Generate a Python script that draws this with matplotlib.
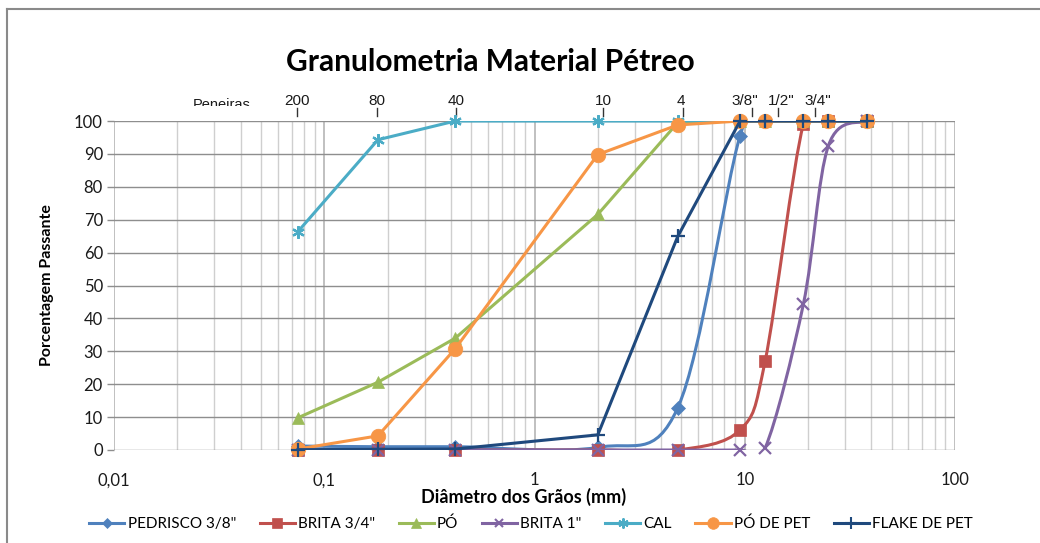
import numpy as np
import matplotlib
matplotlib.use("Agg")
import matplotlib.pyplot as plt
from matplotlib.path import Path
from matplotlib.patches import PathPatch
from matplotlib.lines import Line2D
from matplotlib.ticker import FuncFormatter, LogLocator, NullFormatter
from matplotlib.transforms import blended_transform_factory, Bbox
from matplotlib import font_manager

# ---------------- data ----------------
sieve_mm = [0.075, 0.18, 0.42, 2.0, 4.8, 9.5, 12.5, 19.0, 25.0, 38.0]

pedrisco = [1.2, 1.0, 1.0, 0.8, 12.8, 95.5, 100, 100, 100, 100]
brita_34 = [0, 0, 0, 0, 0, 6.1, 27.0, 99.0, 100, 100]
po = [9.8, 20.6, 34.0, 71.6, 99.5, 100, 100, 100, 100, 100]
brita_1 = [0, 0, 0, 0, 0, 0, 0.6, 44.3, 92.5, 100]
cal = [66.4, 94.3, 100, 100, 100, 100, 100, 100, 100, 100]
po_pet = [0.3, 4.3, 30.8, 89.8, 98.8, 100, 100, 100, 100, 100]
flake_pet = [0.1, 0.2, 0.3, 4.6, 64.9, 100, 100, 100, 100, 100]

series_names = ['PEDRISCO 3/8"', 'BRITA 3/4"', 'PÓ', 'BRITA 1"', 'CAL', 'PÓ DE PET', 'FLAKE DE PET']
series_values = [pedrisco, brita_34, po, brita_1, cal, po_pet, flake_pet]
series_smooth = [True, True, False, True, False, False, False]

# top "Peneiras" axis
sieve_labels = ['200', '80', '40', '10', '4', '3/8"', '1/2"', '3/4"']
sieve_tick_pos = [0.0743, 0.1786, 0.4237, 2.12, 5.08, 10.8, 14.4, 21.6]
sieve_label_pos = [0.0743, 0.1786, 0.4237, 2.12, 4.98, 10.0, 14.9, 22.3]

# ---------------- style ----------------
colors = ['#4F81BD', '#C0504D', '#9BBB59', '#8064A2', '#4BACC6', '#F79646', '#1F497D']
markers = ['D', 's', '^', 'x', (6, 2, 0), 'o', '+']
msizes = [7, 9, 9, 8, 9, 10.5, 10]

avail = {f.name for f in font_manager.fontManager.ttflist}
main_font = 'Lato' if 'Lato' in avail else 'DejaVu Sans'
narrow_font = 'Liberation Sans Narrow' if 'Liberation Sans Narrow' in avail else 'Liberation Sans'
plt.rcParams['font.family'] = [main_font, 'DejaVu Sans']

W, H = 1040, 543
fig = plt.figure(figsize=(W / 100, H / 100), dpi=100)
fig.patch.set_facecolor('white')

x0, x1, ytop, ybot = 114, 955, 121, 450
ax = fig.add_axes([x0 / W, 1 - ybot / H, (x1 - x0) / W, (ybot - ytop) / H])
ax.set_xscale('log')
ax.set_xlim(0.01, 100)
ax.set_ylim(0, 100)
ax.set_yticks(range(0, 101, 10))
ax.xaxis.set_major_locator(LogLocator(base=10))
ax.xaxis.set_minor_locator(LogLocator(base=10, subs=np.arange(2, 10)))
ax.xaxis.set_minor_formatter(NullFormatter())
ax.xaxis.set_major_formatter(FuncFormatter(lambda v, p: f"{v:g}".replace('.', ',')))

ax.grid(which='major', axis='y', color='#8e8e8e', lw=1.0, zorder=0)
ax.grid(which='major', axis='x', color='#b5b5b5', lw=1.2, zorder=0)
ax.grid(which='minor', axis='x', color='#cfcfcf', lw=1.0, zorder=0)
ax.set_axisbelow(True)
for s in ax.spines.values():
    s.set_visible(False)
ax.tick_params(axis='x', which='both', length=0, pad=16, labelsize=12, labelcolor='#1a1a1a')
ax.tick_params(axis='y', length=5, width=1, color='#8e8e8e', pad=3, labelsize=12, labelcolor='#1a1a1a')


def smooth_path(xs, ys):
    u = np.log10(np.asarray(xs, float))
    y = np.asarray(ys, float)
    n = len(u)
    verts = [(xs[0], y[0])]
    codes = [Path.MOVETO]
    for i in range(n - 1):
        ip = max(i - 1, 0)
        inx = min(i + 2, n - 1)
        c1u = u[i] + (u[i + 1] - u[ip]) / 6
        c1y = y[i] + (y[i + 1] - y[ip]) / 6
        c2u = u[i + 1] - (u[inx] - u[i]) / 6
        c2y = y[i + 1] - (y[inx] - y[i]) / 6
        verts += [(10 ** c1u, c1y), (10 ** c2u, c2y), (xs[i + 1], y[i + 1])]
        codes += [Path.CURVE4] * 3
    return Path(verts, codes)


handles = []
for k, (name, vals, sm) in enumerate(zip(series_names, series_values, series_smooth)):
    c = colors[k]
    z = 3 + k
    if sm:
        patch = PathPatch(smooth_path(sieve_mm, vals), facecolor='none', edgecolor=c,
                          lw=2.2, zorder=z, capstyle='round', joinstyle='round')
        ax.add_patch(patch)
    else:
        ax.plot(sieve_mm, vals, color=c, lw=2.2, zorder=z, solid_joinstyle='round')
    mk = markers[k]
    lined = mk in ('x', '+', (6, 2, 0))
    ax.plot(sieve_mm, vals, ls='none', marker=mk, ms=msizes[k], color=c,
            mec=c, mew=1.6 if lined else 0.5, zorder=z + 0.5, clip_on=False)
    handles.append(Line2D([], [], color=c, lw=2.2, marker=mk,
                          ms=msizes[k] * 0.8, mec=c, mew=1.5 if lined else 0.5))

# top sieve axis
blend = blended_transform_factory(ax.transData, fig.transFigure)
for xp in sieve_tick_pos:
    ax.plot([xp, xp], [1 - 108 / H, 1 - 116 / H], color='#333333', lw=1,
            transform=blend, clip_on=False)
for lab, xp in zip(sieve_labels, sieve_label_pos):
    fig.text(xp, 1 - 101 / H, lab, transform=blend, ha='center', va='center',
             fontsize=11, family=narrow_font, color='#1a1a1a')

pen = fig.text(222 / W, 1 - 109 / H, 'Peneiras', ha='center', va='baseline',
               fontsize=10.5, family='Liberation Sans', color='#1a1a1a')
pen.set_clip_box(Bbox.from_extents(0, H - 106.0, W, H))
pen.set_clip_on(True)

# titles
fig.text(490 / W, 1 - 62 / H, 'Granulometria Material Pétreo', ha='center', va='center',
         fontsize=21.5, fontweight='bold', color='black')
fig.text(47 / W, 1 - 285 / H, 'Porcentagem Passante', ha='center', va='center',
         rotation=90, fontsize=11.5, fontweight='bold', color='black')
fig.text(524 / W, 1 - 497 / H, 'Diâmetro dos Grãos (mm)', ha='center', va='center',
         fontsize=13, fontweight='bold', color='black')

fig.legend(handles, series_names, loc='center', bbox_to_anchor=(531 / W, 1 - 524 / H),
           ncol=7, frameon=False, handlelength=2.3, columnspacing=1.55,
           handletextpad=0.2, fontsize=11, borderaxespad=0)

# outer chart frame (left and top edges visible)
fig.add_artist(Line2D([7 / W, 7 / W], [0, 1 - 9 / H], color='#8a8a8a', lw=1.5,
                      transform=fig.transFigure))
fig.add_artist(Line2D([7 / W, 1], [1 - 9 / H, 1 - 9 / H], color='#8a8a8a', lw=1.5,
                      transform=fig.transFigure))

fig.savefig('out.png', dpi=100, facecolor='white')
